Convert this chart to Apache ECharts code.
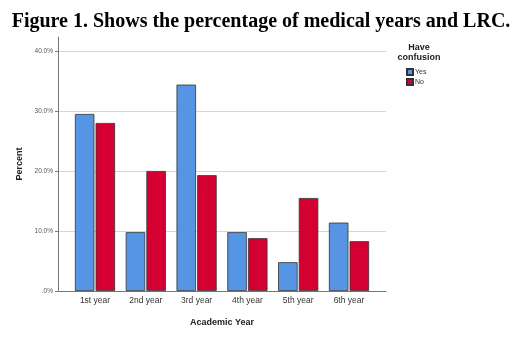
<!DOCTYPE html>
<html><head><meta charset="utf-8">
<script src="https://cdn.jsdelivr.net/npm/echarts@6/dist/echarts.min.js"></script>
<style>html,body{margin:0;padding:0;background:#fff}#c{width:522px;height:337px}</style>
</head><body><div id="c"></div>
<script>
const categories = ['1st year','2nd year','3rd year','4th year','5th year','6th year'];
const yesValues = [29.5, 9.8, 34.4, 9.8, 4.8, 11.4];
const noValues = [28.0, 20.0, 19.3, 8.8, 15.5, 8.3];
const seriesNames = ['Yes','No'];
const yTicks = [0, 10, 20, 30, 40];

const chart = echarts.init(document.getElementById('c'));
const sans = 'Liberation Sans';
const yMax = 42.3;
chart.setOption({
  animation: false,
  title: [{
    text: 'Figure 1. Shows the percentage of medical years and LRC.',
    left: 'center', top: 7,
    textStyle: {fontFamily: 'Liberation Serif', fontWeight: 'bold', fontSize: 20, color: '#000'}
  }, {
    text: 'Have\nconfusion',
    left: 414, top: 38, textAlign: 'center',
    textStyle: {fontFamily: sans, fontWeight: 'bold', fontSize: 9, lineHeight: 10, color: '#222'}
  }],
  legend: {
    data: seriesNames, orient: 'vertical', left: 401, top: 63,
    itemWidth: 6, itemHeight: 6, itemGap: 2,
    textStyle: {fontFamily: sans, fontSize: 7, lineHeight: 8, color: '#333', padding: [0,0,0,-3]},
    icon: 'rect'
  },
  grid: [
    {left: 58, top: 291 - yMax * 6, width: 328, height: yMax * 6},
    {left: 69.6, top: 291 - yMax * 6, width: 304.8, height: yMax * 6}
  ],
  xAxis: [
    {gridIndex: 0, type: 'value', min: 0, max: 1, axisLine: {show: true, onZero: false, lineStyle: {color: '#777'}},
     axisTick: {show: false}, axisLabel: {show: false}, splitLine: {show: false},
     name: 'Academic Year', nameLocation: 'middle', nameGap: 27,
     nameTextStyle: {fontFamily: sans, fontSize: 9, fontWeight: 'bold', color: '#222'}},
    {gridIndex: 1, type: 'category', data: categories, axisLine: {show: false}, axisTick: {show: false},
     axisLabel: {fontFamily: sans, fontSize: 8.5, color: '#333', margin: 5}}
  ],
  yAxis: [
    {gridIndex: 0, type: 'value', min: 0, max: yMax, interval: 10,
     axisLine: {show: true, lineStyle: {color: '#777'}},
     axisTick: {show: true, length: 3, lineStyle: {color: '#777'}},
     axisLabel: {fontFamily: sans, fontSize: 6.5, color: '#555', margin: 5, showMaxLabel: false,
       formatter: v => (yTicks.indexOf(v) >= 0 ? (v === 0 ? '.0%' : v.toFixed(1) + '%') : '')},
     splitLine: {show: true, lineStyle: {color: ['#d6d6d6','#d6d6d6','#d6d6d6','#d6d6d6','#d6d6d6','rgba(0,0,0,0)'], width: 1}},
     name: 'Percent', nameLocation: 'middle', nameGap: 29, nameRotate: 90,
     nameTextStyle: {fontFamily: sans, fontSize: 9, fontWeight: 'bold', color: '#222'}},
    {gridIndex: 1, type: 'value', min: 0, max: yMax, show: false, splitLine: {show: false}}
  ],
  series: [
    {name: seriesNames[0], type: 'bar', xAxisIndex: 1, yAxisIndex: 1, data: yesValues,
     barWidth: 19.5, barGap: '6%',
     itemStyle: {color: '#5595e3', borderColor: '#333', borderWidth: 0.8}},
    {name: seriesNames[1], type: 'bar', xAxisIndex: 1, yAxisIndex: 1, data: noValues,
     barWidth: 19.5, barGap: '6%',
     itemStyle: {color: '#d50032', borderColor: '#333', borderWidth: 0.8}}
  ]
});
</script></body></html>
